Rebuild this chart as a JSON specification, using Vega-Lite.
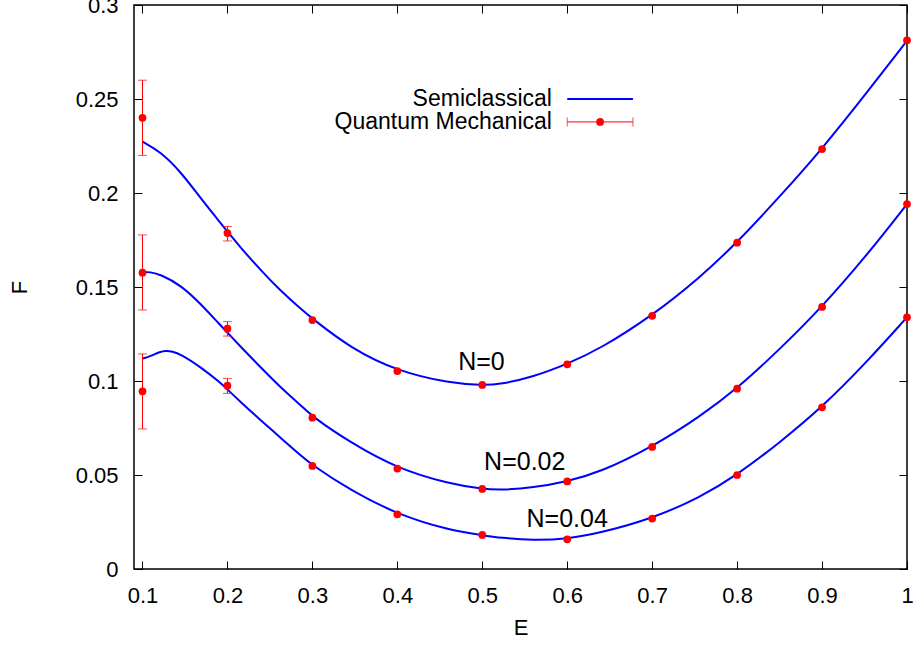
{
  "$schema": "https://vega.github.io/schema/vega-lite/v6.json",
  "width": 773,
  "height": 564,
  "autosize": "none",
  "padding": {"left": 134, "top": 5, "right": 8, "bottom": 76},
  "background": "white",
  "config": {
    "font": "Liberation Sans",
    "view": {"stroke": "black", "strokeWidth": 1.5},
    "axis": {
      "labelFont": "Liberation Sans",
      "labelFontSize": 22,
      "labelColor": "black",
      "titleFont": "Liberation Sans",
      "titleFontSize": 22,
      "titleFontWeight": "normal",
      "titleColor": "black",
      "tickColor": "black",
      "tickWidth": 1,
      "grid": false,
      "domain": false
    }
  },
  "datasets": {
    "curves": [
      {"N": "0", "E": 0.1, "F": 0.2273}, {"N": "0", "E": 0.121, "F": 0.222}, {"N": "0", "E": 0.145, "F": 0.2113},
      {"N": "0", "E": 0.168, "F": 0.1975}, {"N": "0", "E": 0.192, "F": 0.184}, {"N": "0", "E": 0.2, "F": 0.1795},
      {"N": "0", "E": 0.215, "F": 0.1712}, {"N": "0", "E": 0.239, "F": 0.159}, {"N": "0", "E": 0.262, "F": 0.1482},
      {"N": "0", "E": 0.286, "F": 0.1385}, {"N": "0", "E": 0.3, "F": 0.1332}, {"N": "0", "E": 0.345, "F": 0.1175},
      {"N": "0", "E": 0.4, "F": 0.1052}, {"N": "0", "E": 0.462, "F": 0.0988}, {"N": "0", "E": 0.5, "F": 0.0977},
      {"N": "0", "E": 0.521, "F": 0.0982}, {"N": "0", "E": 0.56, "F": 0.1022}, {"N": "0", "E": 0.6, "F": 0.109},
      {"N": "0", "E": 0.639, "F": 0.1172}, {"N": "0", "E": 0.7, "F": 0.1347}, {"N": "0", "E": 0.756, "F": 0.155},
      {"N": "0", "E": 0.8, "F": 0.1736}, {"N": "0", "E": 0.85, "F": 0.198}, {"N": "0", "E": 0.9, "F": 0.2234},
      {"N": "0", "E": 0.953, "F": 0.2535}, {"N": "0", "E": 1.0, "F": 0.281},
      {"N": "0.02", "E": 0.1, "F": 0.158}, {"N": "0.02", "E": 0.109, "F": 0.158}, {"N": "0.02", "E": 0.121, "F": 0.1567},
      {"N": "0.02", "E": 0.145, "F": 0.151}, {"N": "0.02", "E": 0.168, "F": 0.1413}, {"N": "0.02", "E": 0.192, "F": 0.1295},
      {"N": "0.02", "E": 0.2, "F": 0.1258}, {"N": "0.02", "E": 0.215, "F": 0.1185}, {"N": "0.02", "E": 0.239, "F": 0.1073},
      {"N": "0.02", "E": 0.262, "F": 0.0968}, {"N": "0.02", "E": 0.286, "F": 0.0872}, {"N": "0.02", "E": 0.3, "F": 0.081},
      {"N": "0.02", "E": 0.345, "F": 0.0672}, {"N": "0.02", "E": 0.4, "F": 0.0534}, {"N": "0.02", "E": 0.462, "F": 0.0452},
      {"N": "0.02", "E": 0.5, "F": 0.0426}, {"N": "0.02", "E": 0.521, "F": 0.042}, {"N": "0.02", "E": 0.56, "F": 0.0432},
      {"N": "0.02", "E": 0.6, "F": 0.0466}, {"N": "0.02", "E": 0.639, "F": 0.0515}, {"N": "0.02", "E": 0.7, "F": 0.0649},
      {"N": "0.02", "E": 0.756, "F": 0.081}, {"N": "0.02", "E": 0.8, "F": 0.0959}, {"N": "0.02", "E": 0.85, "F": 0.1168},
      {"N": "0.02", "E": 0.9, "F": 0.1394}, {"N": "0.02", "E": 0.953, "F": 0.167}, {"N": "0.02", "E": 1.0, "F": 0.1941},
      {"N": "0.04", "E": 0.1, "F": 0.1119}, {"N": "0.04", "E": 0.109, "F": 0.1132}, {"N": "0.04", "E": 0.121, "F": 0.1156},
      {"N": "0.04", "E": 0.127, "F": 0.1161}, {"N": "0.04", "E": 0.135, "F": 0.1158}, {"N": "0.04", "E": 0.145, "F": 0.1142},
      {"N": "0.04", "E": 0.168, "F": 0.1076}, {"N": "0.04", "E": 0.192, "F": 0.099}, {"N": "0.04", "E": 0.2, "F": 0.0955},
      {"N": "0.04", "E": 0.215, "F": 0.089}, {"N": "0.04", "E": 0.239, "F": 0.0792}, {"N": "0.04", "E": 0.262, "F": 0.07},
      {"N": "0.04", "E": 0.286, "F": 0.0605}, {"N": "0.04", "E": 0.3, "F": 0.0552}, {"N": "0.04", "E": 0.345, "F": 0.0418},
      {"N": "0.04", "E": 0.4, "F": 0.029}, {"N": "0.04", "E": 0.462, "F": 0.0205}, {"N": "0.04", "E": 0.5, "F": 0.018},
      {"N": "0.04", "E": 0.521, "F": 0.0166}, {"N": "0.04", "E": 0.56, "F": 0.0152}, {"N": "0.04", "E": 0.6, "F": 0.016},
      {"N": "0.04", "E": 0.639, "F": 0.0192}, {"N": "0.04", "E": 0.7, "F": 0.0268}, {"N": "0.04", "E": 0.756, "F": 0.038},
      {"N": "0.04", "E": 0.8, "F": 0.05}, {"N": "0.04", "E": 0.85, "F": 0.0672}, {"N": "0.04", "E": 0.9, "F": 0.086},
      {"N": "0.04", "E": 0.953, "F": 0.1103}, {"N": "0.04", "E": 1.0, "F": 0.1339}
    ],
    "qm": [
      {"N": "0", "E": 0.1, "F": 0.24, "lo": 0.22, "hi": 0.26},
      {"N": "0", "E": 0.2, "F": 0.1787, "lo": 0.1745, "hi": 0.1822},
      {"N": "0", "E": 0.3, "F": 0.1324}, {"N": "0", "E": 0.4, "F": 0.1053}, {"N": "0", "E": 0.5, "F": 0.0979},
      {"N": "0", "E": 0.6, "F": 0.1089}, {"N": "0", "E": 0.7, "F": 0.1347}, {"N": "0", "E": 0.8, "F": 0.1736},
      {"N": "0", "E": 0.9, "F": 0.2234}, {"N": "0", "E": 1.0, "F": 0.2812},
      {"N": "0.02", "E": 0.1, "F": 0.1576, "lo": 0.1378, "hi": 0.1777},
      {"N": "0.02", "E": 0.2, "F": 0.1278, "lo": 0.1239, "hi": 0.1316},
      {"N": "0.02", "E": 0.3, "F": 0.0805}, {"N": "0.02", "E": 0.4, "F": 0.0534}, {"N": "0.02", "E": 0.5, "F": 0.0426},
      {"N": "0.02", "E": 0.6, "F": 0.0466}, {"N": "0.02", "E": 0.7, "F": 0.0649}, {"N": "0.02", "E": 0.8, "F": 0.0959},
      {"N": "0.02", "E": 0.9, "F": 0.1394}, {"N": "0.02", "E": 1.0, "F": 0.1941},
      {"N": "0.04", "E": 0.1, "F": 0.0945, "lo": 0.0745, "hi": 0.1144},
      {"N": "0.04", "E": 0.2, "F": 0.0975, "lo": 0.0934, "hi": 0.1014},
      {"N": "0.04", "E": 0.3, "F": 0.0548}, {"N": "0.04", "E": 0.4, "F": 0.0291}, {"N": "0.04", "E": 0.5, "F": 0.0181},
      {"N": "0.04", "E": 0.6, "F": 0.0158}, {"N": "0.04", "E": 0.7, "F": 0.0268}, {"N": "0.04", "E": 0.8, "F": 0.05},
      {"N": "0.04", "E": 0.9, "F": 0.086}, {"N": "0.04", "E": 1.0, "F": 0.1339}
    ],
    "labels": [
      {"E": 0.499, "F": 0.1103, "text": "N=0"},
      {"E": 0.55, "F": 0.0567, "text": "N=0.02"},
      {"E": 0.6, "F": 0.0268, "text": "N=0.04"}
    ],
    "key": [
      {"label": "Semiclassical", "F": 0.25},
      {"label": "Quantum Mechanical", "F": 0.2378}
    ]
  },
  "layer": [
    {
      "data": {"name": "curves"},
      "mark": {"type": "line", "strokeWidth": 2, "interpolate": "basis", "color": "#0000ff"},
      "encoding": {
        "x": {
          "field": "E", "type": "quantitative",
          "scale": {"domain": [0.09, 1], "nice": false, "zero": false},
          "axis": {"orient": "bottom", "values": [0.1, 0.2, 0.3, 0.4, 0.5, 0.6, 0.7, 0.8, 0.9, 1], "format": "~g", "tickSize": -8, "labelPadding": 24, "title": "E", "titlePadding": 11, "labelFlush": false}
        },
        "y": {
          "field": "F", "type": "quantitative",
          "scale": {"domain": [0, 0.3], "nice": false},
          "axis": {"orient": "left", "values": [0, 0.05, 0.1, 0.15, 0.2, 0.25, 0.3], "format": "~g", "tickSize": -8, "labelPadding": 24, "title": "F", "titlePadding": 44, "labelFlush": false}
        },
        "detail": {"field": "N"}
      }
    },
    {
      "data": {"name": "qm"},
      "transform": [{"filter": "isValid(datum.lo)"}],
      "mark": {"type": "rule", "color": "#ff0000", "strokeWidth": 1},
      "encoding": {
        "x": {"field": "E", "type": "quantitative", "axis": {"orient": "top", "values": [0.1, 0.2, 0.3, 0.4, 0.5, 0.6, 0.7, 0.8, 0.9, 1], "tickSize": -8, "labels": false, "title": null}},
        "y": {"field": "lo", "type": "quantitative", "axis": {"orient": "right", "values": [0, 0.05, 0.1, 0.15, 0.2, 0.25, 0.3], "tickSize": -8, "labels": false, "title": null}},
        "y2": {"field": "hi"}
      }
    },
    {
      "data": {"name": "qm"},
      "transform": [{"filter": "isValid(datum.lo)"}, {"fold": ["lo", "hi"], "as": ["end", "val"]}],
      "mark": {"type": "tick", "orient": "horizontal", "color": "#ff0000", "size": 9, "thickness": 1},
      "encoding": {
        "x": {"field": "E", "type": "quantitative", "axis": null},
        "y": {"field": "val", "type": "quantitative", "axis": null}
      }
    },
    {
      "data": {"name": "qm"},
      "mark": {"type": "circle", "size": 60, "opacity": 1, "color": "#ff0000"},
      "encoding": {
        "x": {"field": "E", "type": "quantitative", "axis": null},
        "y": {"field": "F", "type": "quantitative", "axis": null}
      }
    },
    {
      "data": {"name": "labels"},
      "mark": {"type": "text", "font": "Liberation Sans", "fontSize": 25, "color": "black", "align": "center", "baseline": "middle"},
      "encoding": {
        "x": {"field": "E", "type": "quantitative", "axis": null},
        "y": {"field": "F", "type": "quantitative", "axis": null},
        "text": {"field": "text"}
      }
    },
    {
      "data": {"name": "key"},
      "mark": {"type": "text", "font": "Liberation Sans", "fontSize": 23, "color": "black", "align": "right", "baseline": "middle"},
      "encoding": {
        "x": {"datum": 0.582, "type": "quantitative", "axis": null},
        "y": {"field": "F", "type": "quantitative", "axis": null},
        "text": {"field": "label"}
      }
    },
    {
      "data": {"name": "key"},
      "transform": [{"filter": "datum.label === 'Semiclassical'"}],
      "mark": {"type": "rule", "color": "#0000ff", "strokeWidth": 2},
      "encoding": {
        "x": {"datum": 0.6, "type": "quantitative", "axis": null},
        "x2": {"datum": 0.6774},
        "y": {"field": "F", "type": "quantitative", "axis": null}
      }
    },
    {
      "data": {"name": "key"},
      "transform": [{"filter": "datum.label === 'Quantum Mechanical'"}],
      "mark": {"type": "rule", "color": "#ff0000", "strokeWidth": 1},
      "encoding": {
        "x": {"datum": 0.6, "type": "quantitative", "axis": null},
        "x2": {"datum": 0.6774},
        "y": {"field": "F", "type": "quantitative", "axis": null}
      }
    },
    {
      "data": {"name": "key"},
      "transform": [{"filter": "datum.label === 'Quantum Mechanical'"}],
      "mark": {"type": "tick", "orient": "vertical", "color": "#ff0000", "size": 9, "thickness": 1},
      "encoding": {
        "x": {"datum": 0.6, "type": "quantitative", "axis": null},
        "y": {"field": "F", "type": "quantitative", "axis": null}
      }
    },
    {
      "data": {"name": "key"},
      "transform": [{"filter": "datum.label === 'Quantum Mechanical'"}],
      "mark": {"type": "tick", "orient": "vertical", "color": "#ff0000", "size": 9, "thickness": 1},
      "encoding": {
        "x": {"datum": 0.6774, "type": "quantitative", "axis": null},
        "y": {"field": "F", "type": "quantitative", "axis": null}
      }
    },
    {
      "data": {"name": "key"},
      "transform": [{"filter": "datum.label === 'Quantum Mechanical'"}],
      "mark": {"type": "circle", "size": 60, "opacity": 1, "color": "#ff0000"},
      "encoding": {
        "x": {"datum": 0.6387, "type": "quantitative", "axis": null},
        "y": {"field": "F", "type": "quantitative", "axis": null}
      }
    }
  ]
}
